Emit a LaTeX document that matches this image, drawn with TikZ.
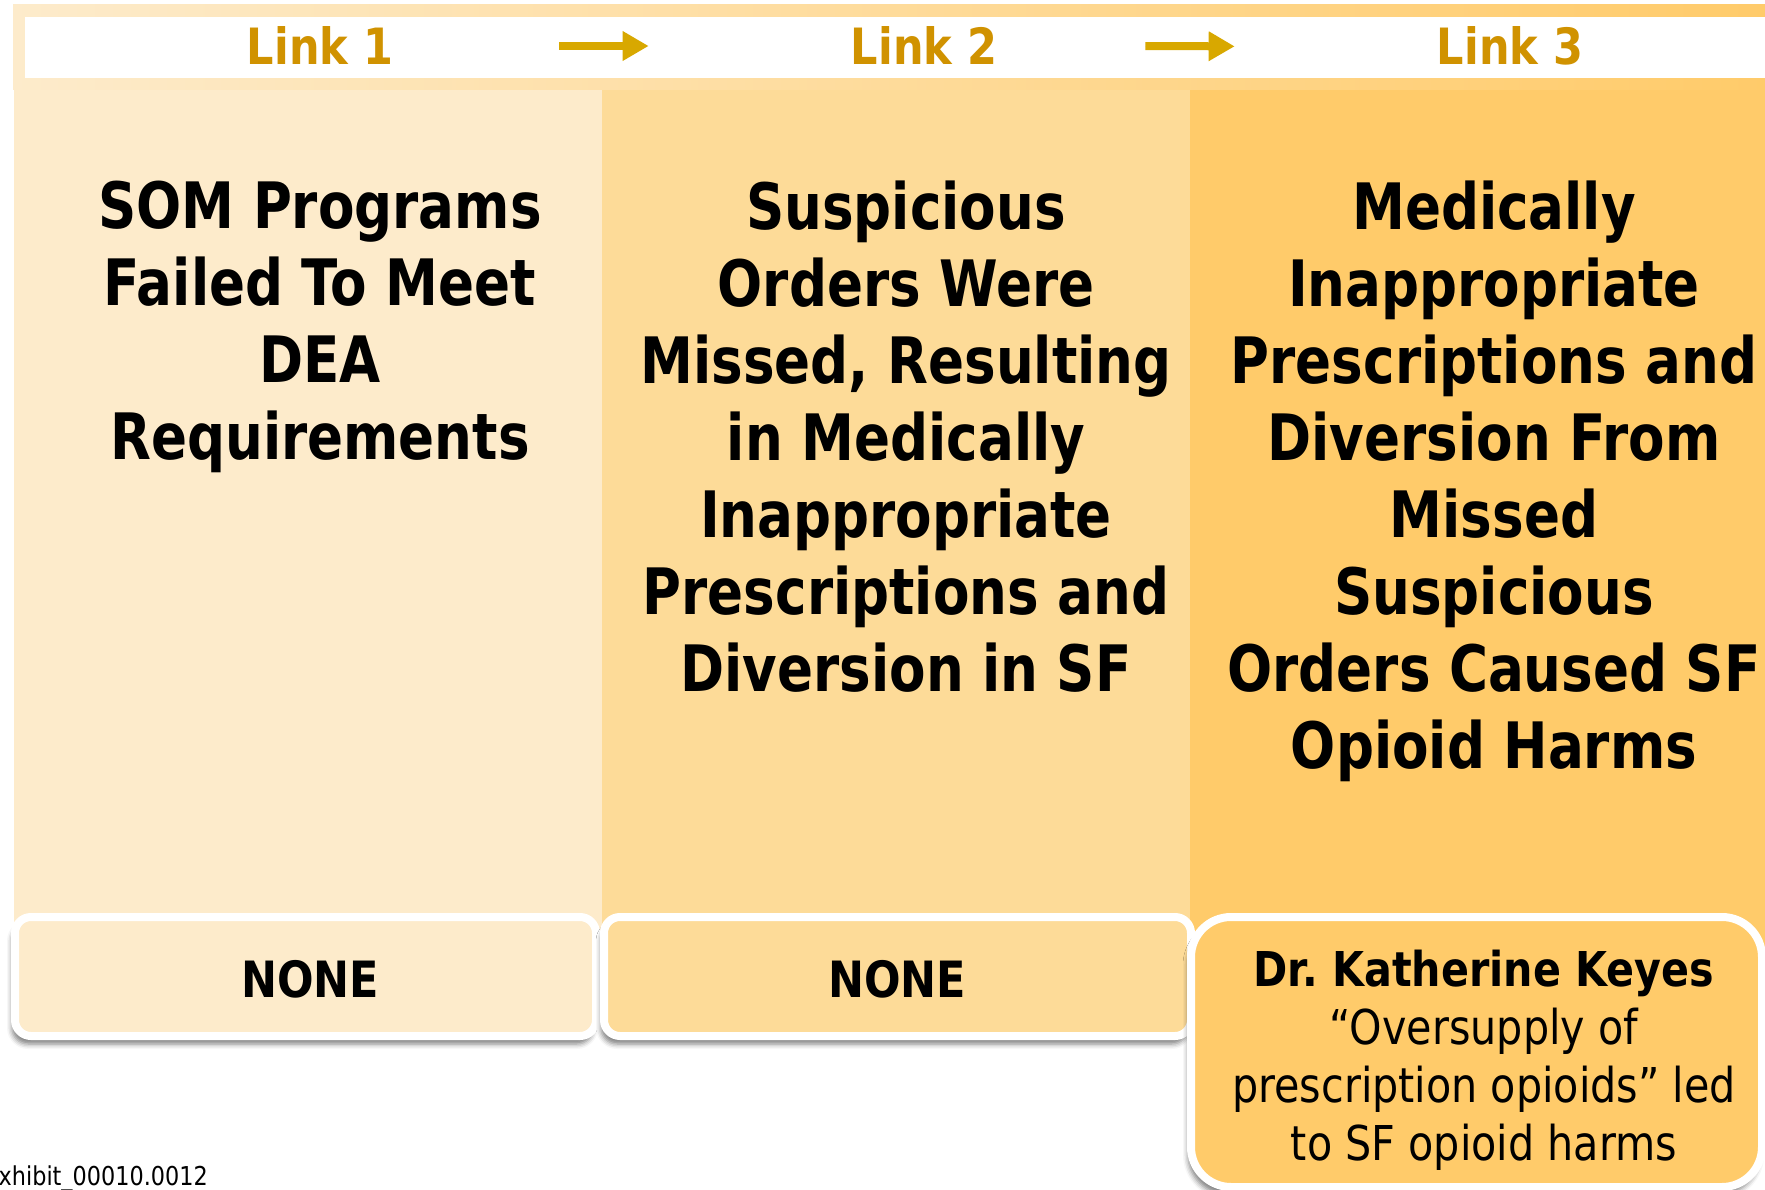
\documentclass[tikz,border=0pt]{standalone}
\usepackage{fontspec}
\setmainfont{DejaVu Sans}[FakeStretch=0.86]
\newfontfamily\headfont{DejaVu Sans}[FakeStretch=0.83]
\usetikzlibrary{arrows.meta,shadows.blur}
\definecolor{linkone}{RGB}{253,235,203}
\definecolor{linktwo}{RGB}{253,219,152}
\definecolor{linkthree}{RGB}{255,203,106}
\definecolor{linkgold}{RGB}{208,146,0}
\definecolor{arrowgold}{RGB}{216,168,0}
\tikzstyle{linklabel}=[anchor=base, inner sep=0pt, text=linkgold, font=\bfseries\fontsize{50}{60}\selectfont]
\tikzstyle{claim}=[anchor=north, inner sep=0pt, align=center, font=\headfont\bfseries\fontsize{64}{77}\selectfont]
\tikzstyle{evbox}=[draw=white, line width=8pt, blur shadow={shadow xshift=-3pt, shadow yshift=-8pt, shadow blur radius=5pt, shadow opacity=50}]
\tikzstyle{linkarrow}=[draw=arrowgold, fill=arrowgold, line width=8pt, -{Triangle[length=26pt 0, width=28pt 0]}]
\newcommand{\evtext}{\node[anchor=base, inner sep=0pt, font=\bfseries\fontsize{50}{60}\selectfont]}

\begin{document}
\begin{tikzpicture}[x=1pt, y=-1pt]
    \useasboundingbox (0,0) rectangle (1765,1190);
    % header band
    \shade[left color=linkone, right color=linkthree] (13,5) rectangle (1765,90);
    \fill[white] (25,17) rectangle (1765,78);
    % the three links
    \fill[linkone] (14,90) rectangle (602,950);
    \fill[linktwo] (602,90) rectangle (1190,950);
    \fill[linkthree] (1190,90) rectangle (1765,950);
    \node[linklabel] (l1) at (320,65) {Link 1};
    \node[linklabel] (l2) at (924,65) {Link 2};
    \node[linklabel] (l3) at (1510,65) {Link 3};
    \draw[linkarrow] ([xshift=166pt]l1.east) -- ([xshift=-202pt]l2.west);
    \draw[linkarrow] ([xshift=148pt]l2.east) -- ([xshift=-202pt]l3.west);
    \node[claim] (c1) at (320,181) {SOM Programs\\Failed To Meet\\DEA\\Requirements};
    \node[claim] (c2) at (906,181) {Suspicious\\Orders Were\\Missed, Resulting\\in Medically\\Inappropriate\\Prescriptions and\\Diversion in SF};
    \node[claim] (c3) at (1494,181) {Medically\\Inappropriate\\Prescriptions and\\Diversion From\\Missed\\Suspicious\\Orders Caused SF\\Opioid Harms};
    % experts
    \draw[evbox, fill=linkone, rounded corners=16pt] (15,917) rectangle (596,1036);
    \draw[evbox, fill=linktwo, rounded corners=16pt] (604,917) rectangle (1191,1036);
    \draw[evbox, fill=linkthree, rounded corners=40pt] (1191,917) rectangle (1762,1187);
    \evtext (e1) at (310,997) {NONE};
    \evtext (e2) at (897,997) {NONE};
    \node[anchor=north, inner sep=0pt, align=center, font=\fontsize{48}{58}\selectfont] (e3) at (1484,950)
        {{\bfseries Dr.\ Katherine Keyes}\\“Oversupply of\\prescription opioids” led\\to SF opioid harms};
    \node[anchor=base east, inner sep=0pt, font=\fontsize{26}{30}\selectfont] (exhibit) at (208,1185) {xhibit\_00010.0012};
\end{tikzpicture}
\end{document}
